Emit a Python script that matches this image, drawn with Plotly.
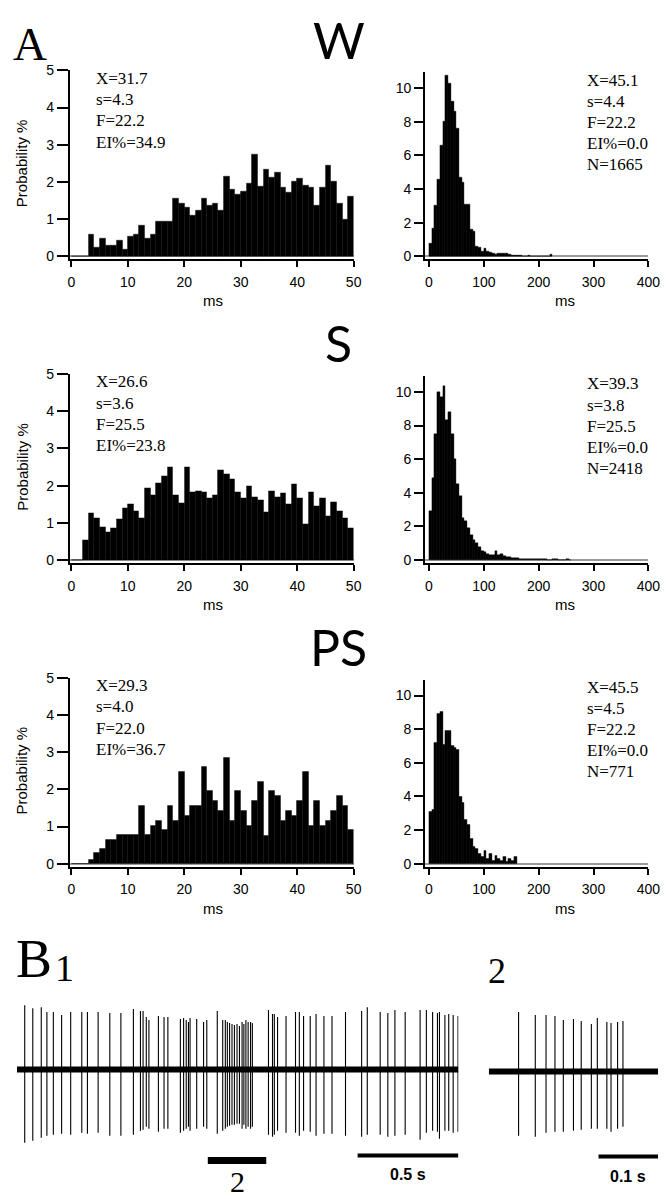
import plotly.graph_objects as go

W_PX, H_PX = 669, 1199

# ---------------- DATA ----------------
short_bin_ms = 1      # left histograms (0-50 ms)
long_bin_ms = 5       # right histograms (0-400 ms)

w_short = [0, 0, 0, 0.60, 0.25, 0.49, 0.29, 0.29, 0.43, 0.18, 0.54, 0.60, 0.84, 0.47, 0.60,
           0.95, 0.95, 0.95, 1.56, 1.43, 1.31, 1.09, 1.24, 1.56, 1.36, 1.43, 1.24, 2.14, 1.80,
           1.67, 1.74, 1.96, 2.75, 1.89, 2.33, 2.13, 2.26, 1.85, 1.73, 2.02, 2.09, 1.90, 1.85,
           1.36, 1.85, 2.44, 2.02, 1.42, 1.00, 1.60]
s_short = [0, 0, 0.53, 1.25, 1.14, 0.89, 0.76, 0.87, 1.09, 1.39, 1.50, 1.32, 1.14, 1.93, 1.75,
           2.06, 2.26, 2.50, 1.75, 1.54, 2.50, 1.84, 1.86, 1.83, 1.66, 1.74, 2.42, 2.31, 2.17,
           1.83, 1.66, 1.99, 1.70, 1.61, 1.30, 1.86, 1.70, 1.79, 1.50, 2.04, 1.66, 0.98, 1.82,
           1.45, 1.66, 1.19, 1.57, 1.32, 1.12, 0.86]
ps_short = [0, 0, 0, 0.10, 0.30, 0.40, 0.65, 0.65, 0.78, 0.78, 0.78, 0.78, 1.55, 0.78, 1.03,
            1.15, 0.92, 1.55, 1.15, 2.46, 1.30, 1.55, 1.55, 2.60, 1.95, 1.70, 1.42, 2.86, 1.15,
            1.95, 1.42, 1.03, 1.70, 2.20, 0.75, 1.95, 1.82, 1.15, 1.42, 1.30, 1.70, 2.46, 1.03,
            1.70, 1.03, 1.15, 1.42, 1.82, 1.55, 0.90]

w_long = [0.8, 1.65, 3.05, 4.6, 6.6, 8.0, 10.75, 10.3, 9.2, 8.6, 7.6, 4.7, 4.4, 3.1, 3.1, 1.6,
          1.5, 0.6, 0.55, 0.3, 0.45, 0.3, 0.25, 0.2, 0.12, 0.15, 0.15, 0.2, 0.15, 0.1, 0.05,
          0.05, 0.03, 0.03, 0.0, 0.0, 0.08, 0.0, 0.0, 0.0, 0.0, 0.0, 0.0, 0.0, 0.1]
s_long = [2.9, 4.9, 7.5, 10.0, 9.7, 10.35, 8.3, 8.8, 7.5, 6.0, 4.5, 3.8, 2.5, 2.3, 1.9, 1.5,
          1.2, 1.0, 0.8, 0.55, 0.45, 0.35, 0.3, 0.3, 0.55, 0.3, 0.35, 0.25, 0.2, 0.15, 0.12,
          0.1, 0.1, 0.08, 0.08, 0.06, 0.05, 0.05, 0.05, 0.05, 0.04, 0.03, 0.03, 0.02, 0.02,
          0.05, 0.03, 0.02, 0.02, 0.02, 0.05, 0.02]
ps_long = [3.1, 3.2, 7.2, 8.9, 9.05, 7.1, 7.9, 7.9, 7.0, 6.9, 6.8, 4.0, 3.6, 2.6, 2.3, 1.5,
           1.0, 0.9, 0.6, 0.4, 0.8, 0.3, 0.6, 0.2, 0.5, 0.3, 0.2, 0.4, 0.1, 0.3, 0.15, 0.4]

state_titles = ["W", "S", "PS"]
short_stats = [["X=31.7", "s=4.3", "F=22.2", "EI%=34.9"],
               ["X=26.6", "s=3.6", "F=25.5", "EI%=23.8"],
               ["X=29.3", "s=4.0", "F=22.0", "EI%=36.7"]]
long_stats = [["X=45.1", "s=4.4", "F=22.2", "EI%=0.0", "N=1665"],
              ["X=39.3", "s=3.8", "F=25.5", "EI%=0.0", "N=2418"],
              ["X=45.5", "s=4.5", "F=22.2", "EI%=0.0", "N=771"]]

short_ticks = [0, 10, 20, 30, 40, 50]
short_yticks = [0, 1, 2, 3, 4, 5]
long_ticks = [0, 100, 200, 300, 400]
long_yticks = [0, 2, 4, 6, 8, 10]

# B1: spike train (times in s, up/down deflection amplitudes, arbitrary units)
b1_duration = 2.19
b1_spike_t = [0.039, 0.079, 0.121, 0.149, 0.181, 0.222, 0.267, 0.322, 0.350, 0.403, 0.461,
              0.516, 0.578, 0.613, 0.626, 0.642, 0.655, 0.702, 0.730, 0.749, 0.811, 0.827,
              0.840, 0.851, 0.859, 0.892, 0.926, 0.942, 0.994, 1.021, 1.034, 1.044, 1.055,
              1.067, 1.079, 1.092, 1.104, 1.117, 1.126, 1.136, 1.147, 1.159, 1.168, 1.248,
              1.268, 1.277, 1.293, 1.335, 1.382, 1.401, 1.422, 1.455, 1.484, 1.523, 1.563,
              1.630, 1.710, 1.738, 1.802, 1.840, 1.875, 1.926, 2.000, 2.031, 2.062, 2.086,
              2.096, 2.123, 2.142, 2.164, 2.188]
b1_spike_up = [65, 62, 63, 58, 58, 55, 58, 58, 58, 58, 57, 57, 61, 59, 59, 53, 50, 54, 53, 53,
               51, 52, 50, 48, 52, 51, 48, 50, 59, 50, 50, 48, 47, 46, 45, 46, 44, 48, 46, 50,
               48, 48, 47, 60, 56, 56, 53, 54, 58, 58, 54, 54, 56, 54, 54, 58, 59, 63, 58, 57,
               60, 58, 60, 60, 58, 57, 58, 55, 56, 55, 54]
b1_spike_down = [74, 72, 69, 67, 66, 65, 66, 64, 65, 64, 67, 67, 66, 62, 61, 58, 60, 63, 60,
                 60, 64, 62, 60, 58, 62, 60, 58, 60, 65, 62, 60, 58, 57, 56, 56, 55, 55, 60,
                 56, 60, 58, 60, 58, 66, 68, 66, 62, 64, 64, 67, 62, 63, 67, 65, 65, 67, 68,
                 66, 66, 68, 67, 66, 71, 64, 62, 63, 70, 62, 62, 64, 63]
b1_burst_start = 0.947   # segment expanded in B2
b1_burst_len = 0.29
b1_scale_s = 0.5

# B2: expanded segment
b2_duration = 0.284
b2_spike_t = [0.050, 0.078, 0.096, 0.111, 0.125, 0.142, 0.155, 0.172, 0.182, 0.198, 0.205,
              0.216, 0.225]
b2_spike_up = [60, 57, 57, 56, 52, 53, 51, 48, 54, 50, 49, 50, 51]
b2_spike_down = [65, 66, 62, 61, 61, 60, 59, 58, 58, 58, 61, 58, 56]
b2_scale_s = 0.1

# ---------------- FIGURE ----------------
def fx(p):
    return p / W_PX


def fy(p):
    return 1 - p / H_PX


ROW_OFF = [0, 307, 614]
SANS = "Liberation Sans, Arial, sans-serif"
SERIF = "Liberation Serif, Times New Roman, serif"
TITLE_FONT = "Lato, Open Sans, sans-serif"

fig = go.Figure()
layout = dict(width=W_PX, height=H_PX, margin=dict(l=0, r=0, t=0, b=0),
              paper_bgcolor="white", plot_bgcolor="white", showlegend=False,
              bargap=0)
annotations = []
shapes = []


def ann(text, xp, yp, size, family, xanchor="left", yanchor="middle", textangle=0):
    annotations.append(dict(text=text, x=fx(xp), y=fy(yp), xref="paper", yref="paper",
                            showarrow=False, xanchor=xanchor, yanchor=yanchor,
                            textangle=textangle,
                            font=dict(size=size, family=family, color="black")))


def axis_style(**kw):
    d = dict(showline=True, linecolor="black", linewidth=2, ticks="outside", tickwidth=2,
             tickcolor="black", showgrid=False, zeroline=False,
             tickfont=dict(family=SANS, size=14, color="black"))
    d.update(kw)
    return d


shorts = [w_short, s_short, ps_short]
longs = [w_long, s_long, ps_long]

for r in range(3):
    o = ROW_OFF[r]
    ia = 2 * r + 1
    ib = 2 * r + 2
    # left histogram
    sv = shorts[r]
    fig.add_trace(go.Bar(x=[i * short_bin_ms for i in range(len(sv))], y=sv,
                         width=short_bin_ms, offset=0,
                         marker=dict(color="black", line=dict(color="black", width=0.4)),
                         xaxis=f"x{ia}", yaxis=f"y{ia}"))
    layout[f"xaxis{ia}"] = axis_style(domain=[fx(61), fx(351)], range=[-0.3, 50],
                                      anchor=f"y{ia}", tickvals=short_ticks, ticklen=6,
                                      ticklabelstandoff=3)
    layout[f"yaxis{ia}"] = axis_style(domain=[fy(246 + o), fy(55 + o)], range=[-0.08, 5],
                                      anchor=f"x{ia}", tickvals=short_yticks, ticklen=11,
                                      zeroline=True, zerolinecolor="#9a9a9a",
                                      zerolinewidth=1.5)
    # right histogram
    lv = longs[r]
    fig.add_trace(go.Bar(x=[i * long_bin_ms for i in range(len(lv))], y=lv,
                         width=long_bin_ms, offset=0,
                         marker=dict(color="black", line=dict(color="black", width=0.4)),
                         xaxis=f"x{ib}", yaxis=f"y{ib}"))
    layout[f"xaxis{ib}"] = axis_style(domain=[fx(424), fx(652)], range=[-7, 400],
                                      anchor=f"y{ib}", tickvals=long_ticks, ticklen=6,
                                      ticklabelstandoff=3)
    layout[f"yaxis{ib}"] = axis_style(domain=[fy(246 + o), fy(57 + o)], range=[-0.176, 10.94],
                                      anchor=f"x{ib}", tickvals=long_yticks, ticklen=9,
                                      zeroline=True, zerolinecolor="#9a9a9a",
                                      zerolinewidth=1.5)
    # texts
    ann(state_titles[r], 336, 24 + o, 50, TITLE_FONT, xanchor="center")
    ann("Probability %", 12, 149 + o, 15, SANS, xanchor="center", textangle=-90)
    ann("ms", 207, 288 + o, 15, SANS, xanchor="center")
    ann("ms", 567, 288 + o, 15, SANS, xanchor="center")
    for k, t in enumerate(short_stats[r]):
        ann(t, 86, 63 + o + 21.5 * k, 17, SERIF)
    for k, t in enumerate(long_stats[r]):
        ann(t, 587, 65 + o + 21.3 * k, 17, SERIF)

ann("A", 1, 0, 47, SERIF, yanchor="top")

# ---- B traces ----
def spike_xy(ts, ups, downs):
    xs, ys = [], []
    for t, u, d in zip(ts, ups, downs):
        xs += [t, t, None]
        ys += [u, -d, None]
    return xs, ys


# B1
fig.add_trace(go.Scatter(x=[0, b1_duration], y=[0, 0], mode="lines",
                         line=dict(color="black", width=6), xaxis="x7", yaxis="y7"))
sx, sy = spike_xy(b1_spike_t, b1_spike_up, b1_spike_down)
fig.add_trace(go.Scatter(x=sx, y=sy, mode="lines", line=dict(color="black", width=1.1),
                         connectgaps=False, xaxis="x7", yaxis="y7"))
layout["xaxis7"] = dict(domain=[fx(7), fx(458)], range=[0, b1_duration], visible=False,
                        anchor="y7")
layout["yaxis7"] = dict(domain=[fy(1170), fy(990)], range=[-105, 75], visible=False,
                        anchor="x7")
shapes.append(dict(type="line", xref="x7", yref="y7", x0=b1_burst_start,
                   x1=b1_burst_start + b1_burst_len, y0=-92, y1=-92,
                   line=dict(color="black", width=7)))
shapes.append(dict(type="line", xref="x7", yref="y7", x0=b1_duration - b1_scale_s,
                   x1=b1_duration, y0=-87, y1=-87, line=dict(color="black", width=4)))

# B2
fig.add_trace(go.Scatter(x=[0, b2_duration], y=[0, 0], mode="lines",
                         line=dict(color="black", width=6), xaxis="x8", yaxis="y8"))
sx2, sy2 = spike_xy(b2_spike_t, b2_spike_up, b2_spike_down)
fig.add_trace(go.Scatter(x=sx2, y=sy2, mode="lines", line=dict(color="black", width=1.1),
                         connectgaps=False, xaxis="x8", yaxis="y8"))
layout["xaxis8"] = dict(domain=[fx(489), fx(662)], range=[0, b2_duration], visible=False,
                        anchor="y8")
layout["yaxis8"] = dict(domain=[fy(1172), fy(992)], range=[-105, 75], visible=False,
                        anchor="x8")
shapes.append(dict(type="line", xref="x8", yref="y8", x0=b2_duration - b2_scale_s,
                   x1=b2_duration, y0=-86, y1=-86, line=dict(color="black", width=4)))

ann("B", 4, 953, 54, SERIF)
ann("1", 44, 962, 38, SERIF)
ann("2", 486, 965, 36, SERIF)
ann("2", 232, 1178, 30, SERIF, xanchor="center")
ann("<b>0.5 s</b>", 407, 1171, 16, SANS, xanchor="center")
ann("<b>0.1 s</b>", 631, 1173, 16, SANS, xanchor="center")

layout["annotations"] = annotations
layout["shapes"] = shapes
fig.update_layout(**layout)
fig.write_html("out.html")
